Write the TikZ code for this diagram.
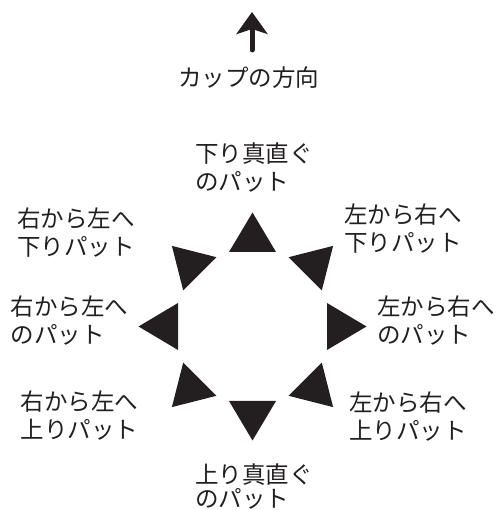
\documentclass[tikz,border=0pt]{standalone}
\usepackage{fontspec}
\newfontfamily\jpfont{Noto Sans CJK JP}
\usetikzlibrary{arrows.meta}
\definecolor{ink}{RGB}{35,31,32}
\tikzset{
  lbl/.style={anchor=west, inner sep=0pt, align=left, text=ink,
    font=\jpfont\fontsize{23.5}{28}\selectfont},
  padtri/.style={fill=ink, draw=none},
  cuparrow/.style={draw=ink, line width=5pt, line cap=round,
    -{Stealth[length=22pt, width=31pt, inset=5pt]}}
}
\begin{document}
\begin{tikzpicture}[x=1pt,y=1pt]
\useasboundingbox (0,0) rectangle (499,510);
% direction of the cup
\coordinate (arrowtail) at (252,460);
\coordinate (arrowtip) at (252,498);
\draw[cuparrow] (arrowtail) -- (arrowtip);
\node[lbl, anchor=center] (cup) at (248.5,432) {カップの方向};
% triangles around the centre
\coordinate (c) at (252.5,183.5);
\foreach \a in {0,45,...,315}{
  \fill[padtri, shift={(c)}, rotate=\a]
    (114,0) -- (74.5,23.5) -- (74.5,-23.5) -- cycle;
}
% labels
\node[lbl] (top) at (195,343) {下り真直ぐ\\のパット};
\node[lbl] (ul) at (17,277.7) {右から左へ\\下りパット};
\node[lbl] (ur) at (344,281) {左から右へ\\下りパット};
\node[lbl] (l) at (10.5,189.2) {右から左へ\\のパット};
\node[lbl] (r) at (377,189.2) {左から右へ\\のパット};
\node[lbl] (ll) at (20.5,94.7) {右から左へ\\上りパット};
\node[lbl] (lr) at (349,93) {左から右へ\\上りパット};
\node[lbl, font=\jpfont\fontsize{23.5}{24}\selectfont] (bot) at (195,24) {上り真直ぐ\\のパット};
\end{tikzpicture}
\end{document}
